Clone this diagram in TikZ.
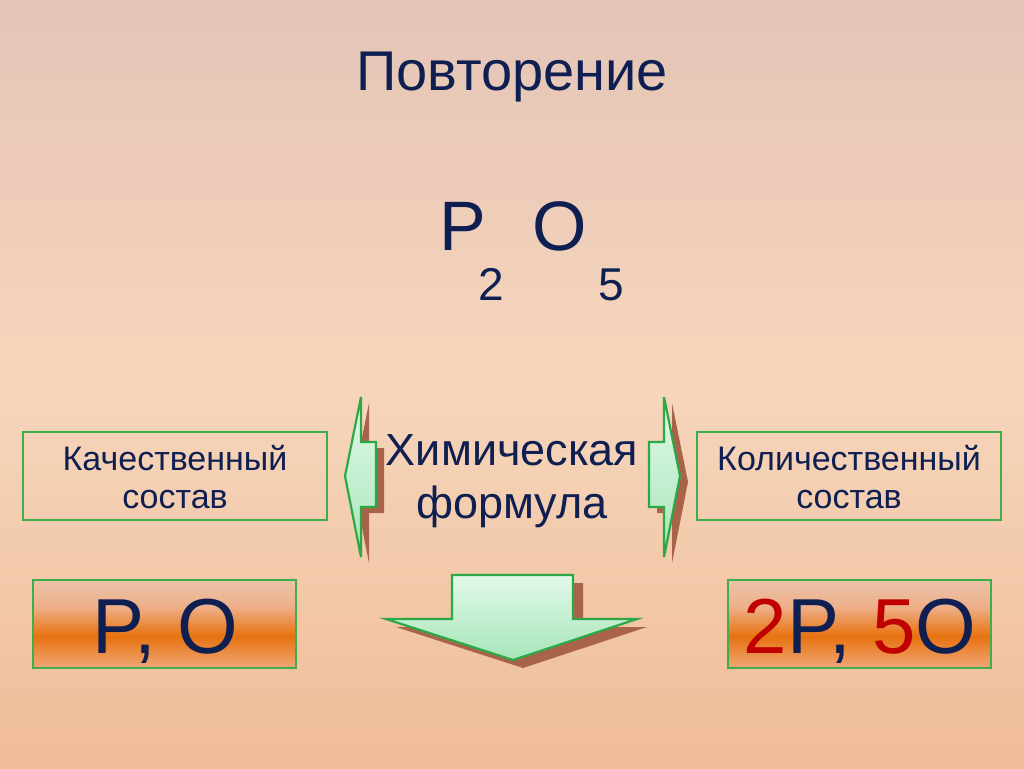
\documentclass[tikz,border=0pt]{standalone}
\usepackage{fontspec}
\setmainfont{Liberation Sans}
\definecolor{navy}{HTML}{0F1F52}
\definecolor{bgtop}{HTML}{E4C4B6}
\definecolor{bgmid}{HTML}{F6D6BC}
\definecolor{bgbot}{HTML}{EFBC98}
\definecolor{boxgreen}{HTML}{3DAE4A}
\definecolor{arrgreen}{HTML}{2CA846}
\definecolor{arrlight}{HTML}{E2F8EA}
\definecolor{arrdark}{HTML}{A6E6B8}
\definecolor{shadowbrown}{HTML}{A8634A}
\definecolor{redtxt}{HTML}{C00000}
\definecolor{bandA}{HTML}{F2C6A4}
\definecolor{bandB}{HTML}{EEA878}
\definecolor{bandC}{HTML}{E8720F}
\definecolor{bandD}{HTML}{EEB08A}
\definecolor{bandE}{HTML}{E8D0C0}
\definecolor{bandF}{HTML}{D6DAD6}
\pgfdeclareverticalshading{orangeband}{100bp}{color(0bp)=(bandA); color(25bp)=(bandB); color(43bp)=(bandC); color(60bp)=(bandD); color(85bp)=(bandE); color(100bp)=(bandF)}
\tikzset{
  txt/.style={text=navy, inner sep=0pt, anchor=base},
  compbox/.style={draw=boxgreen, line width=1.6pt},
  resbox/.style={draw=boxgreen, line width=1.6pt, shading=orangeband},
  greenarrow/.style={draw=arrgreen, line width=2.2pt, line join=miter, top color=arrlight, bottom color=arrdark},
  arrshadow/.style={fill=shadowbrown}
}
\begin{document}
\begin{tikzpicture}[x=1pt,y=-1pt]
\useasboundingbox (0,0) rectangle (1024,768);
\shade[top color=bgtop, bottom color=bgbot, middle color=bgmid] (0,0) rectangle (1024,768);

% title and formula
\node[txt, font=\fontsize{56}{64}\selectfont] (title) at (512,90) {Повторение};
\node[txt, font=\fontsize{70}{80}\selectfont] (P) at (463,250) {P};
\node[txt, font=\fontsize{70}{80}\selectfont] (O) at (560,250) {O};
\node[txt, font=\fontsize{46}{52}\selectfont] (s2) at (491,300) {2};
\node[txt, font=\fontsize{46}{52}\selectfont] (s5) at (611,300) {5};

% upper boxes
\draw[compbox] (23,432) rectangle (327,520);
\node[txt, font=\fontsize{34}{40}\selectfont] (q1) at (175,470) {Качественный};
\node[txt, font=\fontsize{34}{40}\selectfont] (q2) at (175,508) {состав};
\draw[compbox] (697,432) rectangle (1001,520);
\node[txt, font=\fontsize{34}{40}\selectfont] (k1) at (849,470) {Количественный};
\node[txt, font=\fontsize{34}{40}\selectfont] (k2) at (849,508) {состав};

% side arrows
\fill[arrshadow, shift={(8,6)}] (345,476) -- (361,397) -- (361,442) -- (376,442) -- (376,507) -- (361,507) -- (361,557) -- cycle;
\path[greenarrow] (345,476) -- (361,397) -- (361,442) -- (376,442) -- (376,507) -- (361,507) -- (361,557) -- cycle;
\fill[arrshadow, shift={(8,6)}] (680,476) -- (664,397) -- (664,442) -- (649,442) -- (649,507) -- (664,507) -- (664,557) -- cycle;
\path[greenarrow] (680,476) -- (664,397) -- (664,442) -- (649,442) -- (649,507) -- (664,507) -- (664,557) -- cycle;

\node[txt, font=\fontsize{45}{52}\selectfont] (chem1) at (512,465) {Химическая};
\node[txt, font=\fontsize{45}{52}\selectfont] (chem2) at (512,518) {формула};

% down arrow
\fill[arrshadow, shift={(10,8)}] (452,575) -- (573,575) -- (573,619) -- (637,619) -- (513,660) -- (386,619) -- (452,619) -- cycle;
\path[greenarrow] (452,575) -- (573,575) -- (573,619) -- (637,619) -- (513,660) -- (386,619) -- (452,619) -- cycle;

% result boxes
\path[resbox] (33,580) rectangle (296,668);
\node[txt, font=\fontsize{78}{90}\selectfont] (r1) at (165,653) {P, O};
\path[resbox] (728,580) rectangle (991,668);
\node[txt, font=\fontsize{78}{90}\selectfont] (r2) at (860,653) {\textcolor{redtxt}{2}P, \textcolor{redtxt}{5}O};
\end{tikzpicture}
\end{document}
